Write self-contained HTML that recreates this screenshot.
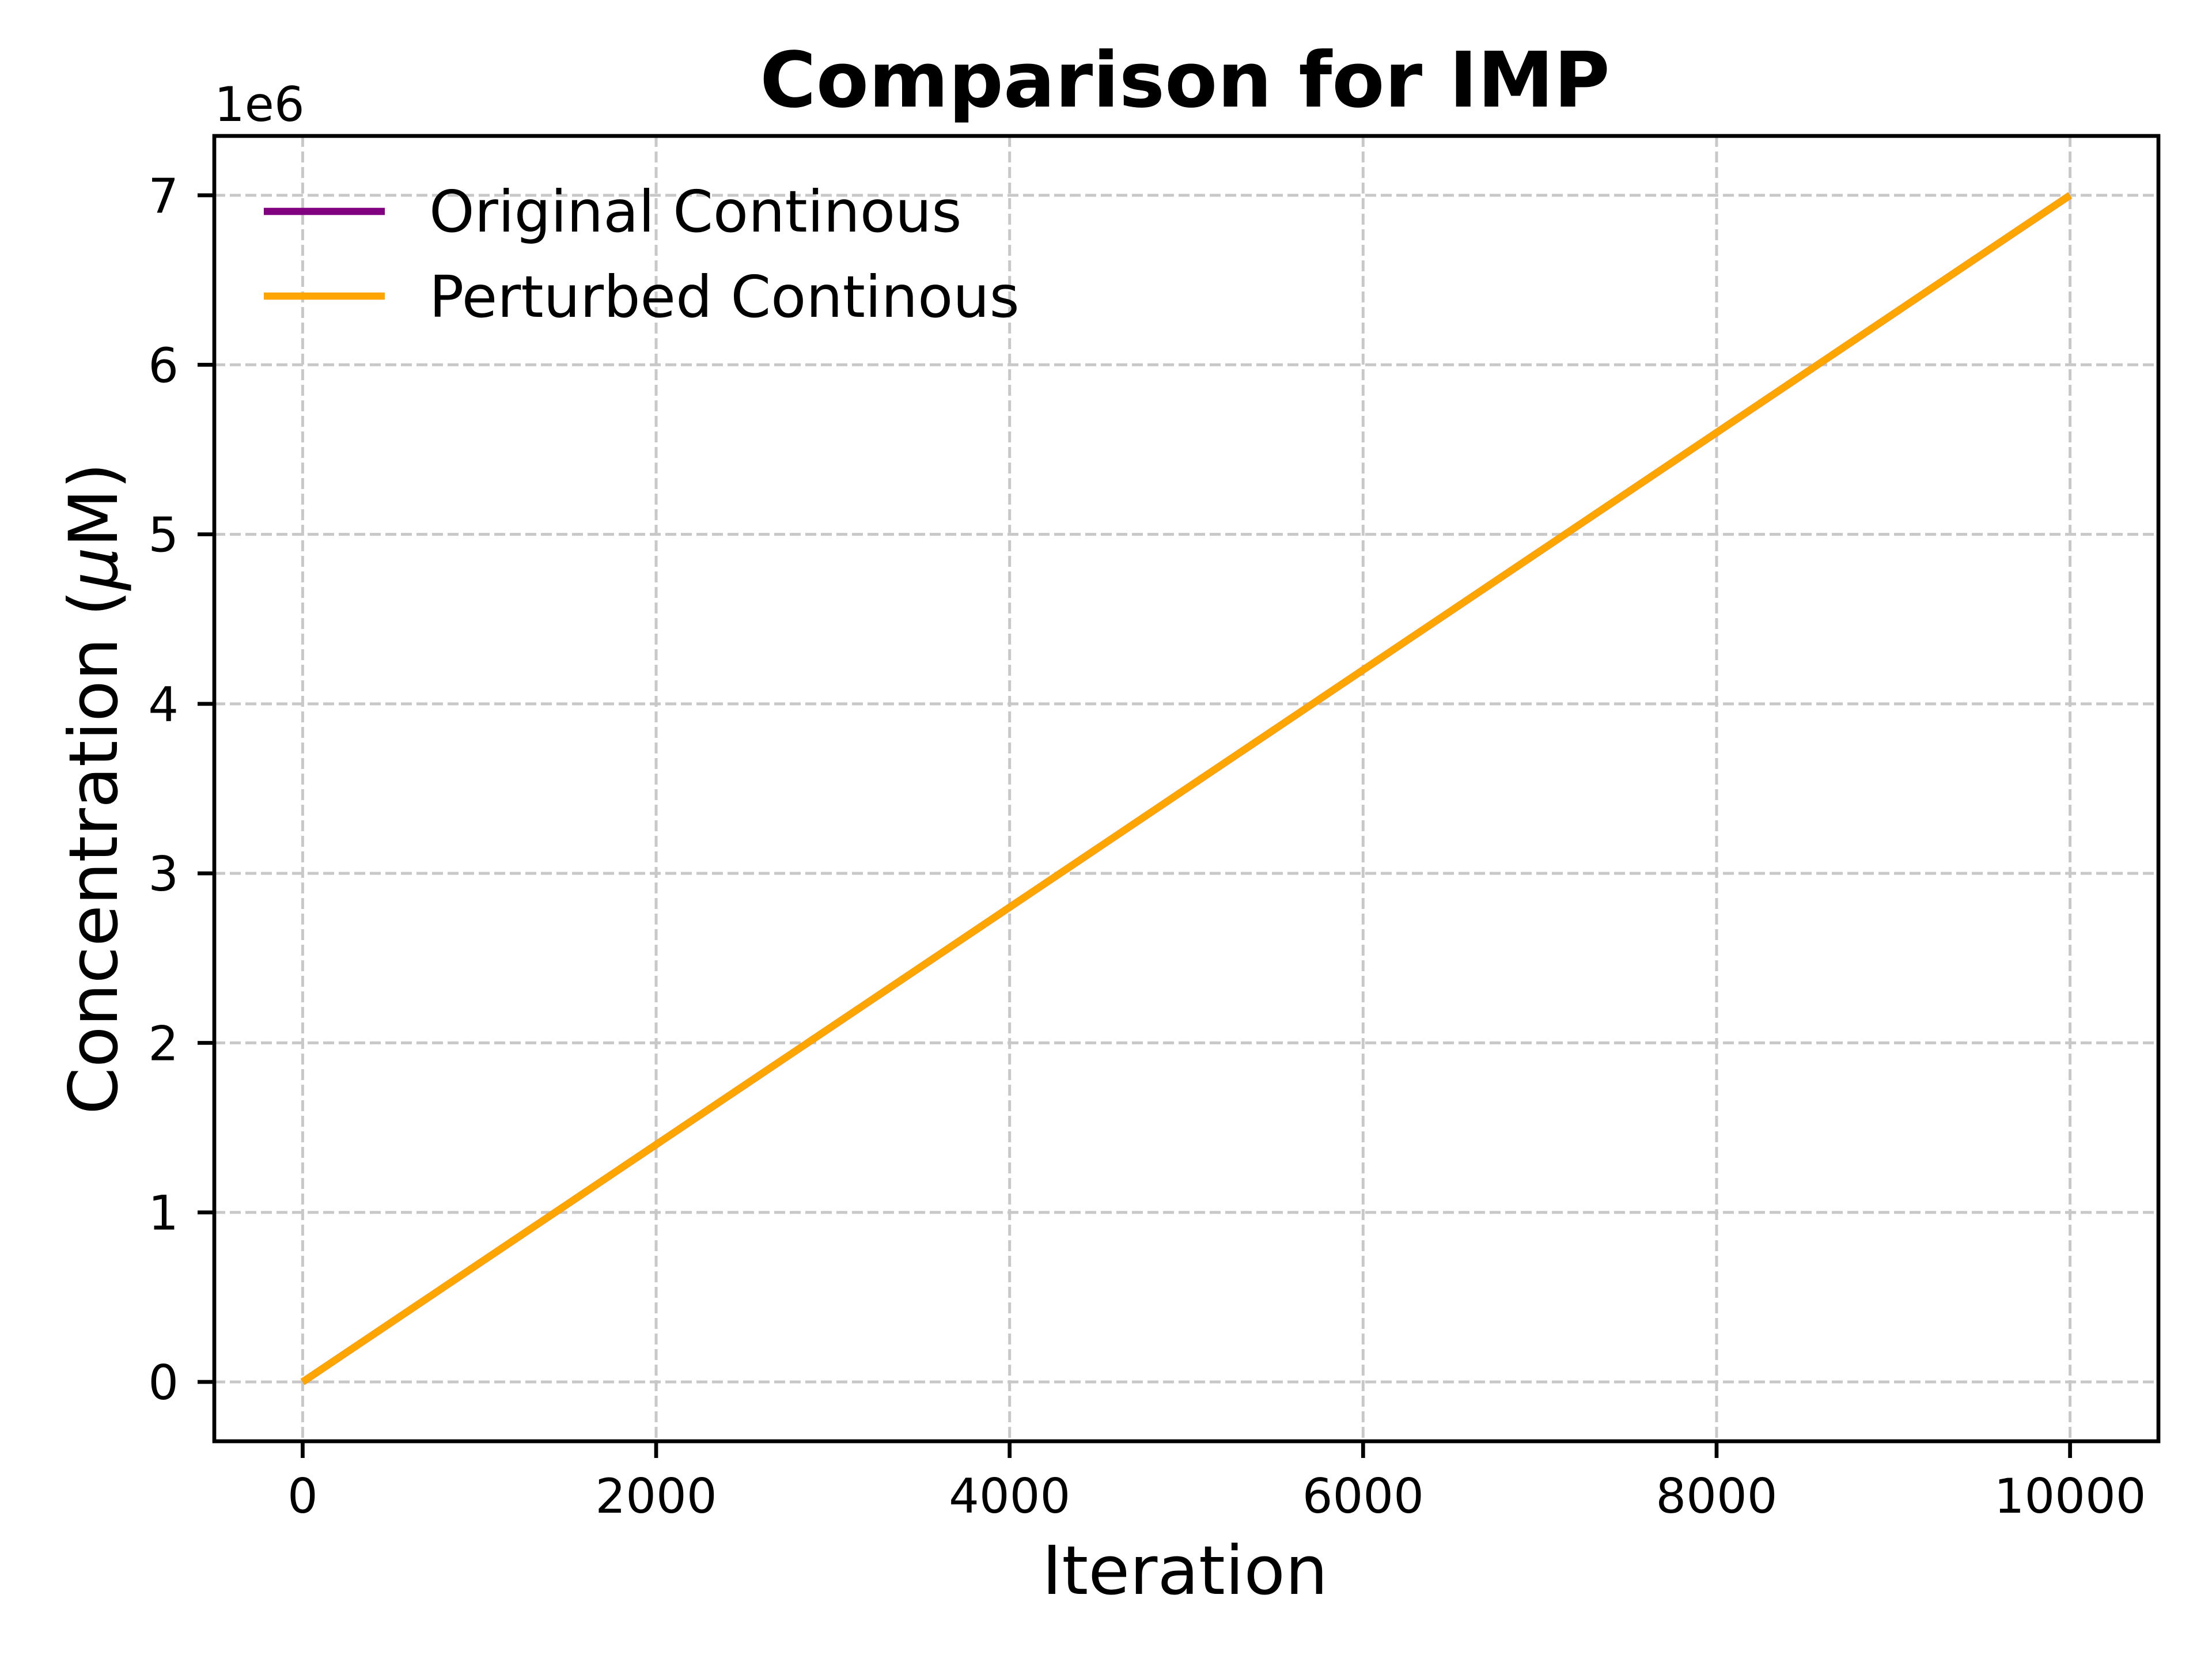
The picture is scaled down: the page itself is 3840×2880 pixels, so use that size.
<!DOCTYPE html>
<html><head><meta charset="utf-8"><style>
html,body{margin:0;padding:0;background:#fff;}
svg{display:block;font-family:"DejaVu Sans","Liberation Sans",sans-serif;}
</style></head><body>
<svg id="chart" width="3840" height="2880" viewBox="0 0 3840 2880" xmlns="http://www.w3.org/2000/svg">
<rect width="3840" height="2880" fill="#fff"/>
<g id="grid"></g>
<g id="series"></g>
<rect x="372" y="236" width="3375" height="2266" fill="none" stroke="#000" stroke-width="6.7"/>
<g id="xticks"></g>
<g id="yticks"></g>
<text x="2057" y="185" text-anchor="middle" font-size="133" font-weight="bold">Comparison for IMP</text>
<text x="372" y="210" font-size="83">1e6</text>
<text x="2057" y="2767" text-anchor="middle" font-size="117">Iteration</text>
<text transform="translate(203,1369) rotate(-90)" text-anchor="middle" font-size="117">Concentration (<tspan font-style="italic">μ</tspan>M)</text>
<g>
<line x1="458" y1="367" x2="668" y2="367" stroke="#800080" stroke-width="12.5"/>
<text x="745" y="402" font-size="100">Original Continous</text>
<line x1="458" y1="514" x2="668" y2="514" stroke="#ffa500" stroke-width="12.5"/>
<text x="745" y="550" font-size="100">Perturbed Continous</text>
</g>
</svg>
<script>
const iterations = [0, 2000, 4000, 6000, 8000, 10000];
const originalValues = [0, 1.4, 2.8, 4.2, 5.6, 7.0];
const perturbedValues = [0, 1.4, 2.8, 4.2, 5.6, 7.0];
const xTicks = [0, 2000, 4000, 6000, 8000, 10000];
const yTicks = [0, 1, 2, 3, 4, 5, 6, 7];

const NS = "http://www.w3.org/2000/svg";
const L = 372, R = 3747, T = 236, B = 2502;
const xMin = -500, xMax = 10500, yMin = -0.35, yMax = 7.35;
function sx(v){ return L + (v - xMin) / (xMax - xMin) * (R - L); }
function sy(v){ return B - (v - yMin) / (yMax - yMin) * (B - T); }
function mk(tag, attrs, parent){
  const e = document.createElementNS(NS, tag);
  for (const k in attrs) e.setAttribute(k, attrs[k]);
  parent.appendChild(e); return e;
}
const grid = document.getElementById('grid');
const xt = document.getElementById('xticks');
const yt = document.getElementById('yticks');
xTicks.forEach(v => {
  const x = sx(v);
  const g = mk('line', {x1:x, x2:x, y1:T, y2:B, stroke:'#c8c8c8', 'stroke-width':5, 'stroke-dasharray':'19 8'}, grid);
  
  
  const t = mk('line', {x1:x, x2:x, y1:B, y2:B+29, stroke:'#000', 'stroke-width':6.7}, xt);
  
  
  const lb = mk('text', {x:x, y:2626, 'text-anchor':'middle', 'font-size':83}, xt);
  lb.textContent = v;
  
  
});
yTicks.forEach(v => {
  const y = sy(v);
  const g = mk('line', {x1:L, x2:R, y1:y, y2:y, stroke:'#c8c8c8', 'stroke-width':5, 'stroke-dasharray':'19 8'}, grid);
  
  
  const t = mk('line', {x1:L-29, x2:L, y1:y, y2:y, stroke:'#000', 'stroke-width':6.7}, yt);
  
  
  const lb = mk('text', {x:310, y:y+30, 'text-anchor':'end', 'font-size':83}, yt);
  lb.textContent = v;
  
  
});
const series = document.getElementById('series');
function pts(vals){ return iterations.map((x,i)=> sx(x)+','+sy(vals[i])).join(' '); }
const p1 = mk('polyline', {points:pts(originalValues), fill:'none', stroke:'#800080', 'stroke-width':12.5, 'stroke-linejoin':'round'}, series);


const p2 = mk('polyline', {points:pts(perturbedValues), fill:'none', stroke:'#ffa500', 'stroke-width':12.5, 'stroke-linejoin':'round'}, series);


</script>
</body></html>
